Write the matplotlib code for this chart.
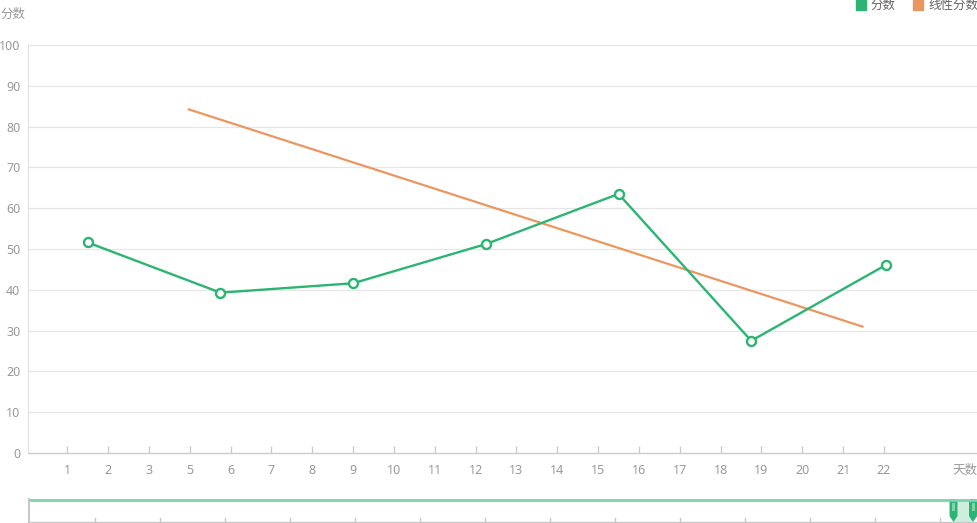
import matplotlib
matplotlib.use("Agg")
import matplotlib.pyplot as plt
from matplotlib.patches import Rectangle, FancyBboxPatch, Polygon

plt.rcParams['font.family'] = ['Noto Sans CJK SC', 'DejaVu Sans']

# ---- data ----
day_labels = ['1', '2', '3', '5', '6', '7', '8', '9', '10', '11', '12', '13', '14',
              '15', '16', '17', '18', '19', '20', '21', '22']
score_x = [1.5, 4.75, 8.0, 11.25, 14.5, 17.75, 21.05]
score_y = [51.6, 39.3, 41.6, 51.2, 63.5, 27.5, 46.1]
linear_x = [3.95, 20.5]
linear_y = [84.3, 30.9]
y_ticks = [0, 10, 20, 30, 40, 50, 60, 70, 80, 90, 100]

GREEN = '#2bb472'
ORANGE = '#ea975f'
LABEL = '#999999'
TICKFONT = ['Noto Sans', 'DejaVu Sans']
FS = 9

W, H = 977, 523
fig = plt.figure(figsize=(W / 100, H / 100), dpi=100)

def px(l, t, r, b):
    return [l / W, 1 - b / H, (r - l) / W, (b - t) / H]

ax = fig.add_axes(px(28, 45, 977, 453))
ax.set_ylim(0, 100)
ax.set_xlim(0.037, 23.28)
ax.set_yticks(y_ticks)
ax.set_yticklabels([str(v) for v in y_ticks], family=TICKFONT)
ax.set_xticks(range(1, len(day_labels) + 1))
ax.set_xticklabels(day_labels, family=TICKFONT)
ax.tick_params(axis='y', length=0, pad=5.5, labelsize=FS, labelcolor=LABEL)
ax.tick_params(axis='x', direction='in', length=5, width=1, color='#cccccc',
               pad=8, labelsize=FS, labelcolor=LABEL)
for s in ['top', 'right']:
    ax.spines[s].set_visible(False)
ax.spines['left'].set_color('#e0e0e0')
ax.spines['bottom'].set_color('#cccccc')
ax.spines['bottom'].set_linewidth(1)
for v in y_ticks[1:]:
    ax.axhline(v, color='#e6e6e6', lw=0.9, zorder=0)

ax.plot(linear_x, linear_y, color=ORANGE, lw=1.6, zorder=2, solid_capstyle='butt')
ax.plot(score_x, score_y, color=GREEN, lw=1.7, zorder=3, marker='o', markersize=6.5,
        markerfacecolor='white', markeredgecolor=GREEN, markeredgewidth=1.7)

# axis names
fig.text(0 / W, 1 - 14 / H, '分数', fontsize=FS, color=LABEL, ha='left', va='center')
fig.text(977 / W, 1 - 470 / H, '天数', fontsize=FS, color=LABEL, ha='right', va='center')

# legend
fig.patches.append(Rectangle((856 / W, 1 - 10 / H), 10 / W, 10 / H,
                             transform=fig.transFigure, color=GREEN))
fig.text(870 / W, 1 - 5 / H, '分数', fontsize=FS, color='#666666', ha='left', va='center')
fig.patches.append(Rectangle((913 / W, 1 - 10 / H), 10 / W, 10 / H,
                             transform=fig.transFigure, color=ORANGE))
fig.text(928 / W, 1 - 5 / H, '线性分数', fontsize=FS, color='#666666', ha='left', va='center')

# data zoom slider
sx = fig.add_axes(px(0, 497, 977, 523))
sx.set_xlim(0, 977)
sx.set_ylim(523, 497)
sx.axis('off')
sx.add_patch(Rectangle((953, 499), 20, 23, color='#cdeedd', lw=0))
sx.plot([28, 977], [499.5, 499.5], color='#7fd3a8', lw=2, solid_capstyle='butt')
sx.plot([28.5, 28.5], [499, 522], color='#c8c8c8', lw=1.5)
sx.plot([28, 977], [521.5, 521.5], color='#c8c8c8', lw=1)
for k in range(1, 15):
    xx = 29.5 + 65 * k
    sx.plot([xx, xx], [521.5, 518], color='#c8c8c8', lw=1)
for hx in (953.5, 973.0):
    sx.add_patch(FancyBboxPatch((hx - 4, 499), 8, 19, boxstyle='round,pad=0,rounding_size=3.5',
                                color=GREEN, lw=0))
    sx.add_patch(Polygon([[hx - 4, 516], [hx + 4, 516], [hx, 522]], closed=True,
                         color=GREEN, lw=0))
    sx.add_patch(Rectangle((hx - 1.5, 503), 3, 8, color='#80d4aa', lw=0))

fig.savefig('out.png', dpi=100)
